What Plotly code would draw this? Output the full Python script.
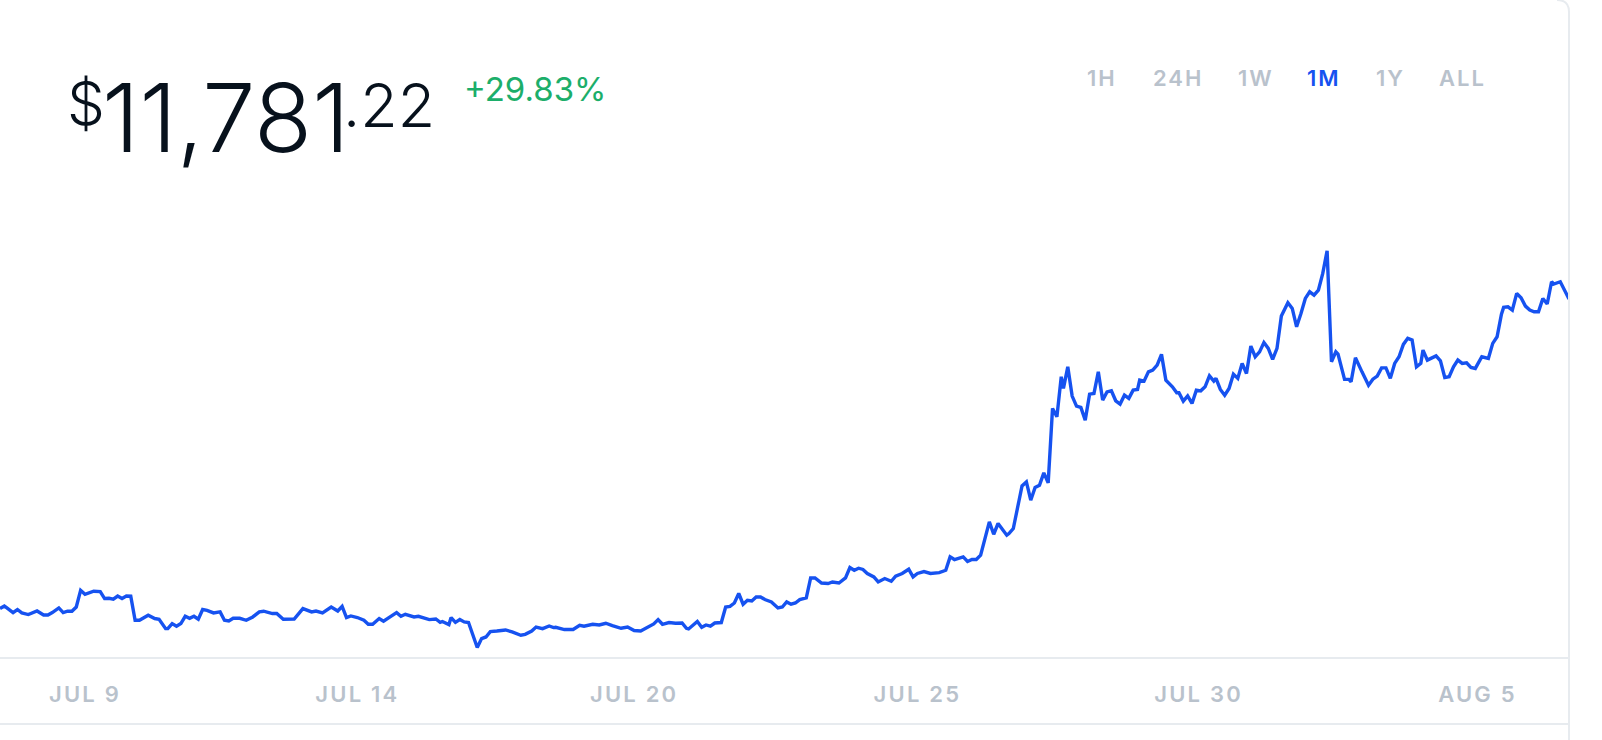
import pandas as pd
import plotly.graph_objects as go

# ---------------- data ----------------
start_time = "2020-07-07 22:00"
hours = [
    0, 2, 3, 6, 8, 10, 13, 17, 20, 22, 24, 27, 29, 31, 33, 35, 37, 39, 43, 46,
    48, 50, 52, 54, 56, 58, 60, 62, 64, 68, 71, 73, 76, 77, 79, 81, 83, 85, 87, 89,
    91, 93, 95, 98, 101, 103, 105, 107, 110, 113, 116, 119, 121, 125, 127, 130, 135, 139, 143, 145,
    148, 152, 155, 157, 159, 161, 164, 167, 169, 171,
    174, 176, 179, 182, 184, 186, 190, 192, 197, 200, 202, 203, 206, 207, 209, 211, 213, 215, 219, 221,
    223, 225, 228, 232, 235, 236, 239, 241, 244, 246, 249, 252, 254, 255, 259, 263, 266, 268, 272, 275,
    278, 281, 285, 288, 291, 294, 297, 300, 302, 304, 307, 310, 313, 315, 316, 320, 322, 324, 326, 328,
    331, 333,
    335, 337, 339, 341, 343, 345, 347, 349, 351, 354, 357, 359, 361, 363, 365, 367, 370, 372, 374, 377,
    380, 382, 385, 388, 390, 392, 394, 396, 398, 401, 403, 406, 409, 411, 414, 417, 419, 421, 424, 427,
    431, 434, 436, 438, 442, 444, 446, 448, 450, 454, 456, 458,
    462, 463, 465, 467, 469, 471, 473, 475, 477, 479, 481, 483, 485, 487, 488, 490, 492, 494, 496, 498,
    500, 502, 504, 506, 508, 510, 512, 514, 516, 518, 520, 522, 523, 525, 527, 529, 531, 533, 535, 538,
    540, 541, 543, 545, 547, 549, 551, 553, 555, 557, 558, 560, 562, 564, 566, 568, 570, 572, 574, 576,
    578,
    580, 582, 584, 586, 588, 589, 591, 593, 595, 597, 599, 601, 603, 605, 607, 609, 611, 613, 614, 617,
    619, 620, 622, 625, 628, 630, 632, 634, 636, 638, 640, 642, 644, 646, 648, 650, 652, 653, 655, 659,
    661, 663, 665, 667, 669, 671, 673, 675, 677, 680, 683, 685, 687, 689, 690, 692, 694, 696, 698, 700,
    702, 704, 706, 708, 710, 712, 713, 716, 720,
]
prices = [
    9074, 9097, 9083, 9039, 9066, 9036, 9022, 9053, 9018, 9018, 9039, 9080, 9039, 9051, 9051, 9088, 9234, 9199, 9226, 9223,
    9162, 9164, 9156, 9184, 9162, 9184, 9182, 8972, 8972, 9016, 8987, 8981, 8899, 8899, 8943, 8920, 8943, 9007, 8989, 9007,
    8981, 9066, 9059, 9036, 9045, 8972, 8966, 8989, 8989, 8972, 9001, 9045, 9051, 9031, 9031, 8981, 8983, 9074, 9045, 9053,
    9036, 9088, 9053, 9094, 8996, 9010, 8996, 8972, 8937, 8937,
    8987, 8963, 9001, 9039, 9007, 9024, 9001, 9007, 8978, 8983, 8954, 8961, 8934, 8996, 8954, 8978, 8957, 8952, 8734, 8812,
    8826, 8873, 8878, 8887, 8870, 8864, 8841, 8849, 8878, 8913, 8899, 8922, 8908, 8911, 8891, 8891, 8928, 8920, 8937, 8931,
    8946, 8926, 8902, 8913, 8882, 8878, 8913, 8940, 8978, 8937, 8952, 8946, 8948, 8902, 8896, 8961, 8911, 8931, 8920, 8948,
    8952, 9088,
    9094, 9123, 9206, 9112, 9147, 9141, 9176, 9176, 9153, 9132, 9080, 9088, 9132, 9112, 9123, 9153, 9167, 9342, 9342, 9298,
    9293, 9307, 9298, 9342, 9433, 9409, 9427, 9416, 9381, 9351, 9307, 9337, 9313, 9357, 9381, 9418, 9351, 9381, 9398, 9381,
    9389, 9409, 9526, 9503, 9526, 9486, 9503, 9503, 9541, 9832, 9724, 9818,
    9716, 9730, 9774, 9949, 10147, 10182, 10022, 10133, 10153, 10261, 10173, 10824, 10751, 11101, 10999, 11188, 10932, 10844, 10833, 10722,
    10949, 10955, 11144, 10897, 10969, 10978, 10891, 10862, 10940, 10912, 10984, 10990, 11072, 11063, 11144, 11159, 11203, 11297, 11072, 11013,
    10961, 10961, 10888, 10934, 10868, 10984, 10978, 11013, 11109, 11063, 11087, 10990, 10940, 10999, 11124, 11087, 11218, 11130, 11369, 11276,
    11319,
    11401, 11349, 11253, 11349, 11632, 11675, 11748, 11699, 11538, 11655, 11786, 11844, 11815, 11859, 12005, 12203, 11232, 11319, 11299, 11078,
    11078, 11057, 11267, 11144, 11028, 11080, 11107, 11179, 11179, 11087, 11218, 11276, 11384, 11437, 11422, 11188, 11218, 11334, 11247, 11284,
    11241, 11095, 11101, 11188, 11247, 11218, 11223, 11183, 11174, 11276, 11262, 11393, 11451, 11649, 11708, 11713, 11684, 11830, 11792, 11719,
    11684, 11669, 11669, 11786, 11737, 11932, 11912, 11932, 11781.22,
]
tick_dates = ["2020-07-09 13:00", "2020-07-14 18:00", "2020-07-20 01:00",
              "2020-07-25 11:00", "2020-07-30 20:00", "2020-08-05 04:00"]
tick_labels = ["JUL 9", "JUL 14", "JUL 20", "JUL 25", "JUL 30", "AUG 5"]
range_labels = ["1H", "24H", "1W", "1M", "1Y", "ALL"]
selected_range = "1M"
price_whole = "11,781"
price_cents = ".22"
price_change = "+29.83%"

# ---------------- layout constants (pixels) ----------------
W, H = 1602, 740
CARD_R = 1569          # right edge of the card
PLOT_TOP, PLOT_BOT = 150, 657
DIVIDER_Y = 724
BLUE = "#1652f0"
GREY_TXT = "#b9c2cc"
LINE_GREY = "#e7ebef"
INK = "#07111c"
FONT = "Inter"

def px(x):
    return x / W

def py(y):
    return 1 - y / H

t0 = pd.Timestamp(start_time)
times = t0 + pd.to_timedelta(hours, unit="h")
x_end = t0 + pd.Timedelta(hours=720)

fig = go.Figure(go.Scatter(
    x=times, y=prices, mode="lines",
    line=dict(color=BLUE, width=3.4, shape="linear"),
    hoverinfo="skip",
))

def spaced(s, sp=2):
    return f'<span style="letter-spacing:{sp}px">{s}</span>'

annotations = [
    dict(text="$", x=px(65), y=py(103), font=dict(family=FONT, size=60, color=INK, weight=300)),
    dict(text=price_whole, x=px(100), y=py(117), font=dict(family=FONT, size=95, color=INK, weight=300)),
    dict(text=price_cents, x=px(341), y=py(105), font=dict(family=FONT, size=61, color=INK, weight=300)),
    dict(text=price_change, x=px(462), y=py(89), font=dict(family=FONT, size=33, color="#1cae6a", weight=400)),
]
for a in annotations:
    a.update(xref="paper", yref="paper", xanchor="left", yanchor="middle", showarrow=False)

btn_centers = [1102, 1178, 1256, 1324, 1390, 1462]
for lab, cx in zip(range_labels, btn_centers):
    annotations.append(dict(
        text=spaced(lab, 2), x=px(cx), y=py(78), xref="paper", yref="paper",
        xanchor="center", yanchor="middle", showarrow=False,
        font=dict(family=FONT, size=22, weight=600,
                  color=BLUE if lab == selected_range else GREY_TXT),
    ))

R = 12
shapes = [
    dict(type="line", xref="paper", yref="paper", x0=0, x1=px(CARD_R), y0=py(DIVIDER_Y), y1=py(DIVIDER_Y),
         line=dict(color=LINE_GREY, width=2)),
    dict(type="path", xref="paper", yref="paper",
         path=f"M {px(CARD_R)},{py(H)} L {px(CARD_R)},{py(R)} Q {px(CARD_R)},{py(0)} {px(CARD_R-R)},{py(0)}",
         line=dict(color=LINE_GREY, width=2)),
]

fig.update_layout(
    width=W, height=H,
    margin=dict(l=0, r=0, t=0, b=0),
    paper_bgcolor="white", plot_bgcolor="white",
    showlegend=False, hovermode=False,
    annotations=annotations, shapes=shapes,
    xaxis=dict(
        domain=[0, px(CARD_R)], range=[t0, x_end], type="date",
        showgrid=False, zeroline=False,
        showline=True, linecolor=LINE_GREY, linewidth=2,
        ticks="", tickmode="array", tickvals=tick_dates,
        ticktext=[spaced(t, 2.2) for t in tick_labels],
        tickfont=dict(family=FONT, size=22, weight=600, color=GREY_TXT),
        ticklabelstandoff=17,
    ),
    yaxis=dict(
        domain=[py(PLOT_BOT), py(PLOT_TOP)], range=[8650.8, 13083.9],
        visible=False, showgrid=False, zeroline=False,
    ),
)

fig.write_html("out.html", include_plotlyjs=True, config={"displayModeBar": False},
               post_script="document.body.style.margin='0';document.body.style.overflow='hidden';")
